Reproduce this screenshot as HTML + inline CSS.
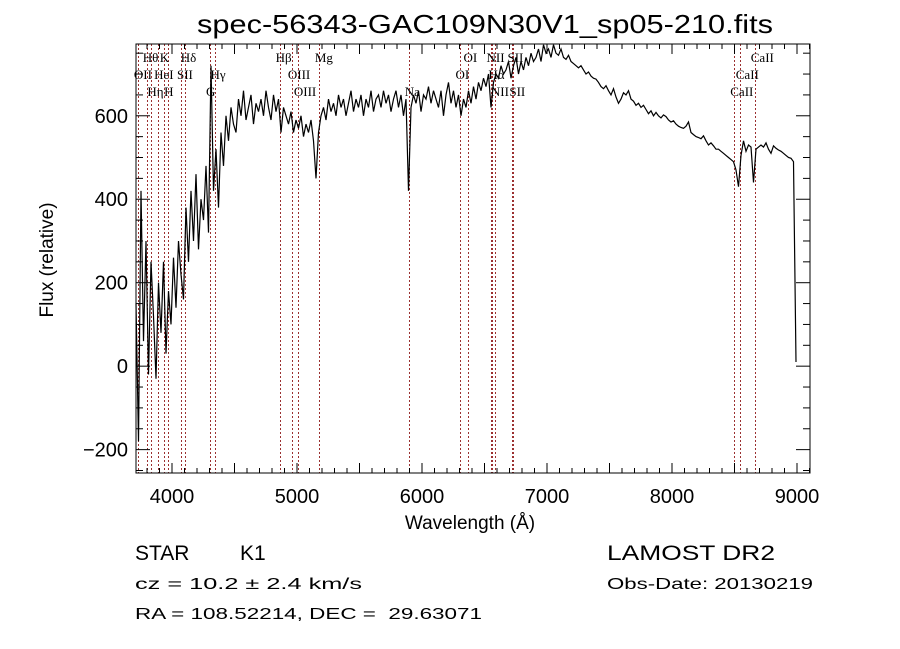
<!DOCTYPE html>
<html><head><meta charset="utf-8"><style>
body{margin:0;background:#fff}
svg{display:block}
text{font-family:"Liberation Sans",sans-serif;fill:#000;white-space:pre}
.ll{font-family:"Liberation Serif",serif;font-size:13px}
</style></head><body>
<svg id="chart" width="900" height="649" viewBox="0 0 900 649">
<rect width="900" height="649" fill="#fff"/>
<text x="197" y="33" font-size="26" textLength="576" lengthAdjust="spacingAndGlyphs">spec-56343-GAC109N30V1_sp05-210.fits</text>
<g id="lines"></g>
<g id="labels"></g>
<path id="spec" fill="none" stroke="#000" stroke-width="1.2"/>
<rect x="136" y="44" width="674" height="429" fill="none" stroke="#000" stroke-width="1"/>
<g id="ticks"></g>
<text x="470" y="529" font-size="19" text-anchor="middle">Wavelength (Å)</text>
<text x="0" y="0" font-size="19" text-anchor="middle" transform="translate(53,260) rotate(-90)">Flux (relative)</text>
<text x="135" y="560" font-size="21">STAR</text>
<text x="240" y="560" font-size="21">K1</text>
<text x="607" y="560" font-size="21" textLength="168" lengthAdjust="spacingAndGlyphs">LAMOST DR2</text>
<text x="135" y="589" font-size="16" textLength="227" lengthAdjust="spacingAndGlyphs">cz = 10.2 ± 2.4 km/s</text>
<text x="607" y="589" font-size="16" textLength="206" lengthAdjust="spacingAndGlyphs">Obs-Date: 20130219</text>
<text x="135" y="619" font-size="16" textLength="347" lengthAdjust="spacingAndGlyphs">RA = 108.52214, DEC =  29.63071</text>
</svg>
<script>
const waveStart = 3712, waveStep = 20;
const flux = [
150,-180,420,60,300,-20,250,120,-30,200,
80,250,30,180,100,260,140,300,220,160,
380,250,420,300,460,280,400,350,480,320,
720,420,520,380,560,480,600,540,620,580,
560,640,600,660,590,620,650,580,630,610,
640,600,660,620,590,650,610,640,560,620,
600,580,610,560,590,570,600,550,580,560,
590,540,450,560,600,620,590,640,610,630,
600,650,620,640,600,630,660,610,640,620,
650,600,640,620,660,610,640,650,620,660,
630,650,610,640,660,620,650,600,640,420,
620,650,630,660,610,650,640,670,630,660,
640,620,660,600,650,680,630,660,620,650,
600,640,620,660,630,670,640,680,660,690,
670,700,620,680,700,690,720,700,710,730,
690,720,740,700,730,710,740,720,750,730,
740,760,730,770,750,760,740,770,750,745,
760,740,735,745,730,725,720,715,720,710,
700,705,695,690,688,680,670,665,672,660,
650,665,645,630,640,655,650,660,640,635,
625,630,620,625,615,605,612,600,608,600,
595,602,598,590,585,588,580,575,572,570,
575,585,560,555,550,548,545,552,540,530,
535,528,520,520,515,510,505,500,495,490,
470,430,505,540,515,530,525,440,520,525,
530,525,535,520,510,528,522,518,515,510,
505,500,498,490,10
];
const lineNames = ["OII","Hθ","Hη","HeI","K","H","SII","Hδ","G","Hγ","Hβ","OIII","OIII","Mg","Na","OI","OI","NII","Hα","NII","SII","SII","CaII","CaII","CaII"];
const lineWaves = [3727,3798,3835,3889,3934,3969,4072,4102,4304,4340,4861,4959,5007,5175,5894,6300,6364,6548,6563,6583,6716,6731,8498,8542,8662];
const lineRows = [1,0,2,1,0,2,1,0,2,1,0,1,2,0,2,1,0,0,1,2,0,2,2,1,0];
const xTicks = [4000,5000,6000,7000,8000,9000];
const yTicks = [-200,0,200,400,600];

const NS="http://www.w3.org/2000/svg";
const X0=136,X1=810,Y0=44,Y1=473;
const xMin=3712,xMax=9104,yMin=-256,yMax=772;
const xs=w=>X0+(w-xMin)/(xMax-xMin)*(X1-X0);
const ys=f=>Y1-(f-yMin)/(yMax-yMin)*(Y1-Y0);
const clampY=y=>Math.max(Y0,Math.min(Y1,y));

let d="";
flux.forEach((f,i)=>{const w=waveStart+i*waveStep;d+=(i?"L":"M")+xs(w).toFixed(1)+","+clampY(ys(f)).toFixed(1);});
document.getElementById('spec').setAttribute('d',d);

const lg=document.getElementById('lines'),lb=document.getElementById('labels');
lineWaves.forEach((w,i)=>{
  const x=Math.round(xs(w))+0.5;
  const l=document.createElementNS(NS,'line');
  
  
  l.setAttribute('x1',x);l.setAttribute('x2',x);l.setAttribute('y1',Y0);l.setAttribute('y2',Y1);
  l.setAttribute('stroke','#9b3030');l.setAttribute('stroke-width','1');l.setAttribute('stroke-dasharray','2,2');
  lg.appendChild(l);
  const t=document.createElementNS(NS,'text');
  
  
  t.setAttribute('class','ll');
  t.setAttribute('x',xs(w)-4);t.setAttribute('y',62+lineRows[i]*17);
  t.textContent=lineNames[i];
  lb.appendChild(t);
});

const tg=document.getElementById('ticks');
function ln(x1,y1,x2,y2){const l=document.createElementNS(NS,'line');l.setAttribute('x1',x1);l.setAttribute('y1',y1);l.setAttribute('x2',x2);l.setAttribute('y2',y2);l.setAttribute('stroke','#000');tg.appendChild(l);}
for(let w=3800;w<=9100;w+=100){const x=xs(w);const L=(w%500===0)?10:5;ln(x,Y1,x,Y1-L);ln(x,Y0,x,Y0+L);}
for(let f=-250;f<=750;f+=50){const y=ys(f);const L=(f%200===0)?14:7;ln(X0,y,X0+L,y);ln(X1,y,X1-L,y);}
xTicks.forEach(v=>{const t=document.createElementNS(NS,'text');


t.setAttribute('x',xs(v));t.setAttribute('y',503);t.setAttribute('font-size','20');t.setAttribute('text-anchor','middle');t.textContent=v;tg.appendChild(t);});
yTicks.forEach(v=>{const t=document.createElementNS(NS,'text');


t.setAttribute('x',128);t.setAttribute('y',ys(v)+7);t.setAttribute('font-size','20');t.setAttribute('text-anchor','end');t.textContent=(v<0?"−"+(-v):v);tg.appendChild(t);});
</script>
</body></html>
